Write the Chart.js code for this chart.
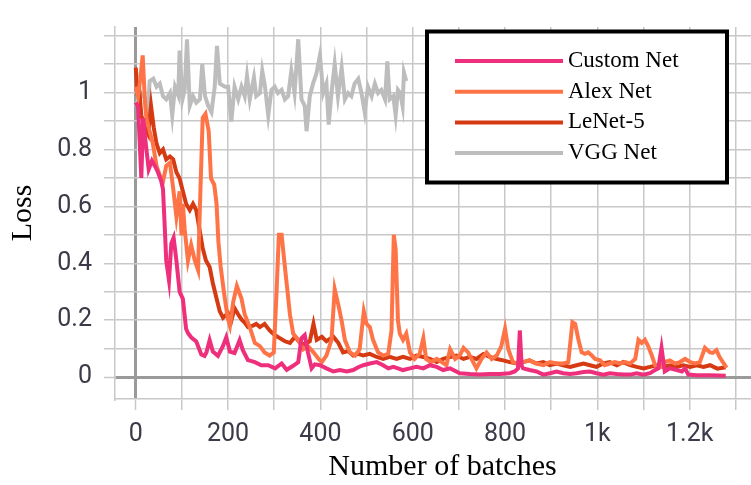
<!DOCTYPE html>
<html>
<head>
<meta charset="utf-8">
<title>Training loss</title>
<script src="https://cdn.jsdelivr.net/npm/chart.js@4.4.1/dist/chart.umd.min.js"></script>
<style>
  html, body { margin: 0; padding: 0; background: #fff; overflow: hidden; }
  #wrap { width: 770px; height: 485px; }
</style>
</head>
<body>
<div id="wrap"><canvas id="lossChart" width="770" height="485"></canvas></div>
<script>
// Loss per batch for each network (batch index, loss)
const customBatches = [0, 5, 12, 16, 21, 28, 35, 42, 48, 55, 59, 63, 66, 72, 77, 82, 88, 95, 102, 109, 113, 120, 131, 142, 149, 153, 160, 167, 178, 189, 196, 204, 214, 225, 232, 243, 258, 272, 287, 302, 316, 327, 341, 352, 359, 366, 373, 381, 388, 399, 413, 428, 442, 457, 471, 482, 493, 507, 522, 536, 547, 558, 568, 579, 594, 608, 623, 637, 652, 666, 681, 702, 724, 745, 767, 789, 810, 821, 828, 832, 836, 839, 853, 868, 883, 897, 912, 926, 941, 955, 970, 984, 998, 1013, 1027, 1042, 1056, 1071, 1085, 1100, 1114, 1125, 1132, 1139, 1146, 1157, 1172, 1183, 1190, 1197, 1215, 1230, 1244, 1278];
const customLoss = [0.965, 0.95, 0.70, 0.91, 0.83, 0.73, 0.76, 0.74, 0.72, 0.69, 0.66, 0.52, 0.41, 0.34, 0.47, 0.49, 0.41, 0.30, 0.275, 0.17, 0.155, 0.14, 0.125, 0.08, 0.075, 0.087, 0.13, 0.09, 0.075, 0.11, 0.14, 0.09, 0.085, 0.13, 0.095, 0.06, 0.053, 0.042, 0.042, 0.031, 0.048, 0.026, 0.04, 0.053, 0.137, 0.148, 0.087, 0.031, 0.045, 0.042, 0.031, 0.02, 0.025, 0.02, 0.025, 0.035, 0.042, 0.048, 0.053, 0.042, 0.031, 0.036, 0.031, 0.025, 0.031, 0.036, 0.031, 0.042, 0.036, 0.025, 0.031, 0.014, 0.011, 0.009, 0.011, 0.011, 0.014, 0.02, 0.03, 0.164, 0.04, 0.031, 0.025, 0.02, 0.009, 0.014, 0.02, 0.014, 0.011, 0.014, 0.018, 0.02, 0.014, 0.009, 0.014, 0.011, 0.009, 0.009, 0.014, 0.009, 0.014, 0.025, 0.031, 0.103, 0.02, 0.031, 0.025, 0.02, 0.031, 0.009, 0.007, 0.007, 0.007, 0.005];

const alexBatches = [0, 5, 10, 15, 20, 23, 30, 37, 45, 52, 59, 66, 74, 81, 88, 95, 99, 102, 106, 113, 120, 128, 135, 140, 145, 151, 158, 163, 170, 175, 179, 184, 191, 199, 204, 211, 219, 229, 236, 247, 258, 269, 279, 290, 299, 305, 310, 316, 321, 326, 334, 341, 352, 363, 373, 385, 396, 403, 413, 424, 431, 439, 446, 453, 464, 475, 485, 494, 500, 507, 514, 525, 536, 547, 554, 559, 563, 568, 572, 579, 586, 594, 604, 615, 623, 629, 640, 652, 663, 673, 681, 692, 702, 710, 720, 731, 738, 749, 760, 771, 782, 792, 800, 807, 817, 828, 839, 853, 868, 883, 897, 912, 926, 937, 946, 952, 959, 966, 973, 980, 988, 995, 1006, 1016, 1027, 1038, 1049, 1060, 1071, 1082, 1089, 1096, 1103, 1110, 1118, 1125, 1136, 1146, 1157, 1168, 1179, 1190, 1201, 1212, 1222, 1233, 1244, 1250, 1258, 1265, 1280];
const alexLoss = [1.02, 0.987, 1.05, 1.13, 0.964, 0.91, 0.864, 0.82, 0.742, 0.709, 0.687, 0.742, 0.753, 0.664, 0.564, 0.653, 0.498, 0.609, 0.52, 0.409, 0.464, 0.409, 0.376, 0.653, 0.911, 0.925, 0.864, 0.698, 0.676, 0.609, 0.476, 0.387, 0.298, 0.209, 0.181, 0.264, 0.32, 0.276, 0.22, 0.176, 0.12, 0.109, 0.087, 0.076, 0.087, 0.30, 0.50, 0.50, 0.42, 0.342, 0.22, 0.153, 0.131, 0.098, 0.109, 0.087, 0.064, 0.053, 0.076, 0.131, 0.309, 0.253, 0.198, 0.131, 0.087, 0.076, 0.098, 0.231, 0.187, 0.176, 0.131, 0.087, 0.076, 0.082, 0.164, 0.50, 0.45, 0.20, 0.153, 0.131, 0.153, 0.087, 0.064, 0.082, 0.137, 0.064, 0.053, 0.064, 0.053, 0.042, 0.098, 0.064, 0.076, 0.103, 0.087, 0.053, 0.031, 0.064, 0.087, 0.064, 0.076, 0.109, 0.17, 0.098, 0.053, 0.048, 0.053, 0.059, 0.048, 0.042, 0.053, 0.048, 0.048, 0.053, 0.193, 0.187, 0.131, 0.087, 0.082, 0.087, 0.076, 0.064, 0.059, 0.042, 0.048, 0.053, 0.048, 0.053, 0.048, 0.064, 0.131, 0.12, 0.131, 0.109, 0.076, 0.042, 0.036, 0.053, 0.059, 0.048, 0.053, 0.064, 0.053, 0.048, 0.053, 0.103, 0.087, 0.085, 0.095, 0.07, 0.033];

const lenetBatches = [0, 3, 7, 12, 20, 27, 33, 39, 45, 52, 59, 66, 74, 81, 88, 95, 102, 109, 117, 124, 131, 138, 145, 152, 160, 167, 175, 182, 189, 200, 207, 214, 222, 229, 236, 243, 254, 261, 269, 279, 290, 301, 312, 323, 334, 345, 356, 366, 377, 385, 392, 403, 413, 428, 439, 449, 460, 471, 482, 493, 507, 522, 536, 550, 565, 579, 594, 608, 623, 637, 652, 666, 681, 695, 710, 724, 738, 753, 767, 782, 796, 810, 825, 839, 853, 868, 883, 897, 912, 926, 941, 955, 970, 984, 998, 1013, 1027, 1042, 1056, 1071, 1085, 1100, 1114, 1129, 1143, 1157, 1172, 1186, 1201, 1215, 1230, 1244, 1260, 1278];
const lenetLoss = [1.087, 1.01, 1.02, 0.92, 0.876, 0.853, 0.953, 0.876, 0.82, 0.787, 0.80, 0.765, 0.775, 0.765, 0.72, 0.698, 0.653, 0.609, 0.587, 0.609, 0.587, 0.52, 0.453, 0.41, 0.387, 0.33, 0.276, 0.231, 0.209, 0.225, 0.198, 0.242, 0.22, 0.203, 0.192, 0.176, 0.181, 0.187, 0.176, 0.187, 0.164, 0.148, 0.137, 0.126, 0.12, 0.142, 0.12, 0.115, 0.126, 0.187, 0.131, 0.142, 0.126, 0.142, 0.12, 0.087, 0.092, 0.076, 0.082, 0.076, 0.082, 0.071, 0.064, 0.071, 0.064, 0.071, 0.064, 0.076, 0.071, 0.064, 0.053, 0.064, 0.071, 0.076, 0.064, 0.071, 0.064, 0.081, 0.071, 0.064, 0.059, 0.053, 0.048, 0.053, 0.059, 0.048, 0.053, 0.042, 0.048, 0.042, 0.036, 0.042, 0.048, 0.042, 0.036, 0.048, 0.053, 0.042, 0.053, 0.042, 0.036, 0.031, 0.036, 0.042, 0.036, 0.042, 0.036, 0.042, 0.036, 0.042, 0.036, 0.042, 0.03, 0.035];

const vggBatches = [0, 10, 20, 26, 30, 38, 45, 52, 59, 66, 74, 79, 85, 92, 95, 101, 106, 111, 117, 124, 131, 139, 144, 150, 157, 164, 171, 176, 182, 193, 200, 207, 214, 222, 229, 236, 241, 247, 256, 261, 269, 274, 280, 287, 294, 301, 308, 316, 323, 330, 337, 344, 352, 359, 366, 370, 377, 384, 391, 399, 406, 413, 418, 424, 431, 438, 446, 453, 460, 467, 474, 482, 489, 496, 503, 511, 518, 525, 532, 540, 545, 550, 558, 563, 568, 573, 578, 581, 586];
const vggLoss = [0.95, 1.0, 0.98, 0.92, 1.04, 1.048, 1.02, 1.031, 0.987, 0.976, 0.998, 0.92, 1.02, 0.99, 1.147, 0.975, 1.01, 1.187, 0.953, 0.987, 0.964, 0.976, 1.10, 0.987, 0.953, 0.931, 1.02, 1.164, 1.031, 1.02, 1.02, 0.898, 1.02, 0.976, 1.02, 0.987, 1.058, 0.976, 1.053, 0.987, 0.998, 1.076, 1.02, 0.92, 1.009, 1.02, 0.998, 1.009, 0.976, 0.987, 1.076, 0.998, 1.187, 0.976, 0.953, 0.864, 0.987, 1.031, 1.064, 1.131, 0.998, 1.031, 0.887, 0.998, 1.10, 0.987, 1.087, 0.976, 0.998, 0.987, 1.031, 1.048, 0.998, 0.931, 1.02, 0.987, 1.031, 0.998, 1.009, 0.976, 1.109, 0.976, 0.987, 0.92, 1.009, 0.998, 0.953, 1.07, 1.04];

const seriesNames = ['Custom Net', 'Alex Net', 'LeNet-5', 'VGG Net'];
const seriesColors = ['#ee2f7b', '#ff7446', '#d53a12', '#bdbdbd'];

// axis ranges and ticks
const xRange = [-45, 1374];
const yRange = [-0.0767, 1.23];
const xGridStep = 100;
const yGridStep = 0.1;

const gridColor = '#c8c8c8';
const zeroColor = '#9a9a9a';
const tickFont = { family: 'Roboto', size: 25 };
const labelColor = '#3a3a48';

function toPoints(xs, ys) {
  return xs.map((x, i) => ({ x: x, y: ys[i] }));
}

const allSeries = [
  toPoints(customBatches, customLoss),
  toPoints(alexBatches, alexLoss),
  toPoints(lenetBatches, lenetLoss),
  toPoints(vggBatches, vggLoss)
];

// Boxed legend in the upper right of the plot
const boxLegend = {
  id: 'boxLegend',
  afterDatasetsDraw(chart) {
    const ctx = chart.ctx;
    ctx.save();
    ctx.fillStyle = '#fff';
    ctx.fillRect(427, 31.5, 300, 151);
    ctx.lineWidth = 4;
    ctx.strokeStyle = '#000';
    ctx.strokeRect(427, 31.5, 300, 151);
    ctx.font = '23px "Liberation Serif"';
    ctx.textBaseline = 'middle';
    ctx.textAlign = 'left';
    chart.data.datasets.forEach((ds, i) => {
      const y = 61 + i * 30.7;
      ctx.strokeStyle = ds.borderColor;
      ctx.lineWidth = 4;
      ctx.beginPath();
      ctx.moveTo(455, y);
      ctx.lineTo(563, y);
      ctx.stroke();
      ctx.fillStyle = '#000';
      ctx.fillText(ds.label, 568, y);
    });
    ctx.restore();
  }
};

function gridLine(ctx) {
  return ctx.tick && ctx.tick.value === 0 ? zeroColor : gridColor;
}
function gridWidth(ctx) {
  return ctx.tick && ctx.tick.value === 0 ? 3 : 1.5;
}

new Chart(document.getElementById('lossChart'), {
  type: 'line',
  data: {
    datasets: allSeries.map((pts, i) => ({
      label: seriesNames[i],
      data: pts,
      borderColor: seriesColors[i],
      backgroundColor: seriesColors[i],
      borderWidth: 4,
      pointRadius: 0,
      tension: 0,
      fill: false
    }))
  },
  options: {
    responsive: false,
    animation: false,
    layout: { padding: { top: 7, right: 0, left: 0, bottom: 0 } },
    plugins: {
      legend: { display: false },
      tooltip: { enabled: false }
    },
    scales: {
      x: {
        type: 'linear',
        min: xRange[0],
        max: xRange[1],
        afterFit: (scale) => { scale.height = 86; },
        ticks: {
          stepSize: xGridStep,
          includeBounds: false,
          autoSkip: false,
          maxRotation: 0,
          padding: 10,
          font: tickFont,
          color: labelColor,
          callback: (v) => {
            if (v % 200 !== 0) return '';
            return v >= 1000 ? (v / 1000) + 'k' : String(v);
          }
        },
        grid: {
          color: gridLine,
          lineWidth: gridWidth,
          tickColor: gridColor,
          tickWidth: 1.5,
          tickLength: 11
        },
        border: { display: true, color: gridColor, width: 1.5 },
        title: {
          display: true,
          text: 'Number of batches',
          color: '#000',
          font: { family: 'Liberation Serif', size: 30 },
          padding: { top: 0, bottom: 0 }
        }
      },
      y: {
        min: yRange[0],
        max: yRange[1],
        afterFit: (scale) => { scale.width = 115; },
        ticks: {
          stepSize: yGridStep,
          includeBounds: false,
          autoSkip: false,
          padding: 12,
          font: tickFont,
          color: labelColor,
          callback: (v) => {
            const tenths = Math.round(v * 10);
            if (tenths % 2 !== 0 || tenths > 10) return '';
            return String(tenths / 10);
          }
        },
        grid: {
          color: gridLine,
          lineWidth: gridWidth,
          tickColor: gridColor,
          tickWidth: 1.5,
          tickLength: 11
        },
        border: { display: true, color: gridColor, width: 1.5 },
        title: {
          display: true,
          text: 'Loss',
          color: '#000',
          font: { family: 'Liberation Serif', size: 30 },
          padding: { top: 5, bottom: 0 }
        }
      }
    }
  },
  plugins: [boxLegend]
});
</script>
</body>
</html>
